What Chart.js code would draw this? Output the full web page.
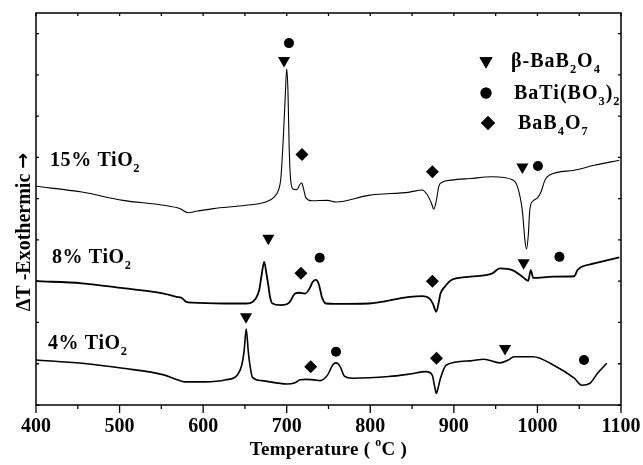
<!DOCTYPE html>
<html>
<head>
<meta charset="utf-8">
<script src="https://cdn.jsdelivr.net/npm/chart.js@4.4.1/dist/chart.umd.min.js"></script>
<style>
  html, body { margin: 0; padding: 0; background: #fff; }
  #wrap { width: 643px; height: 465px; }
</style>
</head>
<body>
<div id="wrap"><canvas id="c" width="643" height="465"></canvas></div>
<script>
// DTA traces (temperature in °C, ΔT in arbitrary units, offset per sample)
const temp15 = [400, 455, 504, 553, 572, 582, 593, 612, 651, 675, 685, 690, 693, 696, 698.5, 700, 701.5, 703, 705, 708,
                712, 716, 718, 720, 723, 730, 749, 759, 798, 847, 862, 868, 873, 876, 879, 882, 886, 897, 920, 946,
                970, 976, 982, 985, 987, 989, 991, 995, 1000, 1004, 1009, 1014, 1044, 1068, 1098];
const dt15   = [53.0, 51.6, 49.6, 48.4, 47.6, 46.6, 47.0, 47.6, 48.4, 49.2, 50.4, 52.0, 55.0, 65.0, 76.0, 81.5, 76.0, 62.0, 54.0, 52.3,
                52.2, 53.5, 53.8, 52.5, 50.2, 49.5, 49.6, 49.2, 50.8, 51.6, 52.1, 51.0, 49.0, 47.5, 49.5, 53.0, 54.0, 54.5, 54.9, 55.3,
                54.6, 53.0, 47.0, 40.0, 37.8, 41.0, 47.5, 49.5, 50.2, 51.5, 54.5, 55.7, 56.9, 58.1, 59.3];

const temp8 = [400, 455, 504, 553, 568, 574, 580, 587, 626, 651, 663, 667, 670, 673, 676, 678, 680, 683, 693, 703,
               710, 715, 722, 728, 731, 735, 738, 740, 742, 747, 759, 798, 847, 862, 871, 875, 879, 882, 884, 889,
               897, 920, 946, 955, 970, 982, 989, 992, 995, 1019, 1044, 1048, 1053, 1068, 1098];
const dt8   = [30.0, 29.5, 28.3, 27.0, 26.2, 26.0, 25.0, 24.8, 24.6, 24.6, 25.8, 27.8, 31.5, 34.7, 31.5, 29.0, 26.2, 24.6, 24.2, 24.8,
               27.0, 27.2, 27.0, 28.5, 29.8, 30.3, 29.5, 28.0, 26.2, 24.6, 24.5, 24.6, 26.2, 26.4, 25.8, 24.5, 22.6, 25.0, 27.0, 28.6,
               30.3, 31.1, 31.9, 33.1, 32.7, 31.1, 30.1, 32.7, 30.8, 31.1, 31.2, 32.7, 33.5, 34.3, 35.8];

const temp4 = [400, 455, 504, 553, 568, 578, 602, 627, 641, 646, 649, 651.5, 654, 656.5, 659, 670, 700, 710, 716, 724,
               733, 740, 749, 755, 759, 764, 769, 779, 822, 847, 867, 874, 877, 879, 881, 884, 891, 920, 936, 955,
               965, 972, 995, 1019, 1044, 1053, 1063, 1072, 1083];
const dt4   = [10.9, 10.1, 8.9, 7.3, 6.2, 5.6, 5.6, 6.1, 7.3, 9.5, 13.0, 18.4, 13.0, 9.0, 6.7, 5.9, 5.1, 5.4, 6.1, 6.2,
               6.1, 5.9, 7.3, 9.7, 10.2, 9.3, 7.0, 6.5, 6.9, 7.5, 8.1, 7.3, 4.5, 2.8, 4.0, 6.5, 9.7, 10.7, 11.1, 10.2,
               10.9, 11.7, 11.7, 9.7, 6.5, 4.8, 5.3, 7.7, 10.1];

// Phase markers placed above the corresponding thermal events
const phaseBBOTemp  = [696.8, 982, 678, 983.5, 651.3, 961.2];
const phaseBBOVal   = [83.5, 57.7, 40.4, 34.5, 21.4, 13.7];
const phaseBTBTemp  = [702.7, 1000.6, 739.5, 1026.3, 759, 1055.7];
const phaseBTBVal   = [87.7, 57.9, 35.7, 35.9, 12.9, 10.9];
const phaseBB4Temp  = [718.3, 874.3, 717, 874.3, 728.7, 879.2];
const phaseBB4Val   = [60.7, 56.5, 31.9, 30.0, 9.3, 11.3];

// Axis ticks
const xMajorTicks = [400, 500, 600, 700, 800, 900, 1000, 1100];
const xMinorTicks = [450, 550, 650, 750, 850, 950, 1050];
const yTicks = [0, 10, 20, 30, 40, 50, 60, 70, 80, 90];

// Text: [string, 'sub' | 'sup' | undefined]
const sampleLabels = [
  { parts: [['15% TiO'], ['2', 'sub']], x: 50, y: 166 },
  { parts: [['8% TiO'], ['2', 'sub']], x: 52, y: 263 },
  { parts: [['4% TiO'], ['2', 'sub']], x: 48, y: 349 }
];
const legendItems = [
  { style: 'triangle', rot: 180, r: 7.5, parts: [['β-BaB'], ['2', 'sub'], ['O'], ['4', 'sub']], x: 486, y: 61, tx: 511 },
  { style: 'circle', rot: 0, r: 5.5, parts: [['BaTi(BO'], ['3', 'sub'], [')'], ['2', 'sub']], x: 486, y: 93, tx: 514 },
  { style: 'rectRot', rot: 0, r: 7, parts: [['BaB'], ['4', 'sub'], ['O'], ['7', 'sub']], x: 488, y: 123, tx: 518 }
];
const xTitle = [['Temperature ( '], ['o', 'sup'], ['C )']];
const yTitleText = 'ΔT -Exothermic ';
const yTitleArrow = '→';

const FONT = '"Liberation Serif", "Times New Roman", serif';
const ARROW_FONT = '"DejaVu Sans", sans-serif';
const pts = (xs, ys) => xs.map((x, i) => ({ x: x, y: ys[i] }));

function richWidth(ctx, parts, size, spacing) {
  let w = 0;
  ctx.letterSpacing = (spacing || 0) + 'px';
  for (const [t, k] of parts) {
    ctx.font = 'bold ' + (k ? size * 0.62 : size) + 'px ' + FONT;
    w += ctx.measureText(t).width;
  }
  ctx.letterSpacing = '0px';
  return w;
}
function drawRich(ctx, parts, x, y, size, spacing) {
  let cx = x;
  ctx.textAlign = 'left';
  ctx.textBaseline = 'alphabetic';
  ctx.letterSpacing = (spacing || 0) + 'px';
  for (const [t, k] of parts) {
    const s = k ? size * 0.62 : size;
    ctx.font = 'bold ' + s + 'px ' + FONT;
    const dy = k === 'sub' ? size * 0.3 : (k === 'sup' ? -size * 0.45 : 0);
    ctx.fillText(t, cx, y + dy);
    cx += ctx.measureText(t).width;
  }
  ctx.letterSpacing = '0px';
}

const framePlugin = {
  id: 'frame',
  afterDraw(chart) {
    const ctx = chart.ctx;
    const xs = chart.scales.x, ys = chart.scales.y;
    const { left, right, top, bottom } = chart.chartArea;
    ctx.save();
    ctx.strokeStyle = '#000';
    ctx.fillStyle = '#000';
    ctx.lineWidth = 1.5;
    ctx.strokeRect(left, top, right - left, bottom - top);

    ctx.lineWidth = 1.3;
    ctx.beginPath();
    for (const v of xMajorTicks) {
      const px = xs.getPixelForValue(v);
      ctx.moveTo(px, bottom); ctx.lineTo(px, bottom + 8);
      ctx.moveTo(px, top); ctx.lineTo(px, top + 3);
    }
    for (const v of xMinorTicks) {
      const px = xs.getPixelForValue(v);
      ctx.moveTo(px, bottom); ctx.lineTo(px, bottom + 4);
      ctx.moveTo(px, top); ctx.lineTo(px, top + 3);
    }
    for (const v of yTicks) {
      const py = ys.getPixelForValue(v);
      ctx.moveTo(left, py); ctx.lineTo(left + 3, py);
      ctx.moveTo(right - 3, py); ctx.lineTo(right, py);
    }
    ctx.stroke();

    // sample labels
    for (const l of sampleLabels) drawRich(ctx, l.parts, l.x, l.y, 20, 0.6);

    // legend
    for (const it of legendItems) {
      Chart.helpers.drawPoint(ctx, { pointStyle: it.style, rotation: it.rot, radius: it.r, borderWidth: 0 }, it.x, it.y);
      ctx.fill();
      drawRich(ctx, it.parts, it.tx, it.y + 6, 20, 1);
    }

    // x title
    const tw = richWidth(ctx, xTitle, 19, 0.3);
    drawRich(ctx, xTitle, (left + right) / 2 - tw / 2, 455, 19, 0.3);

    // y title: text followed by an upward-pointing arrow once rotated
    ctx.translate(30, 232);
    ctx.rotate(-Math.PI / 2);
    ctx.textBaseline = 'alphabetic';
    ctx.textAlign = 'left';
    ctx.font = 'bold 20px ' + FONT;
    const w1 = ctx.measureText(yTitleText).width;
    ctx.font = 'bold 19px ' + ARROW_FONT;
    const w2 = ctx.measureText(yTitleArrow).width;
    const x0 = -(w1 + w2) / 2;
    ctx.font = 'bold 20px ' + FONT;
    ctx.fillText(yTitleText, x0, 0);
    ctx.font = 'bold 19px ' + ARROW_FONT;
    ctx.fillText(yTitleArrow, x0 + w1, -1);
    ctx.restore();
  }
};

const lineSet = (data, w) => ({
  data: data, showLine: true, borderColor: '#000', borderWidth: w,
  pointRadius: 0, cubicInterpolationMode: 'monotone', fill: false
});
const markSet = (data, style, r, rot) => ({
  data: data, showLine: false, pointStyle: style, pointRadius: r, pointRotation: rot,
  backgroundColor: '#000', borderColor: '#000', borderWidth: 0, pointHoverRadius: r
});

new Chart(document.getElementById('c'), {
  type: 'scatter',
  data: {
    datasets: [
      lineSet(pts(temp15, dt15), 1.1),
      lineSet(pts(temp8, dt8), 1.8),
      lineSet(pts(temp4, dt4), 1.6),
      markSet(pts(phaseBBOTemp, phaseBBOVal), 'triangle', 7, 180),
      markSet(pts(phaseBTBTemp, phaseBTBVal), 'circle', 5, 0),
      markSet(pts(phaseBB4Temp, phaseBB4Val), 'rectRot', 6.5, 0)
    ]
  },
  options: {
    responsive: false,
    animation: false,
    devicePixelRatio: 1,
    layout: { padding: { left: 36, right: 22, top: 13, bottom: 0 } },
    plugins: { legend: { display: false }, tooltip: { enabled: false } },
    scales: {
      x: {
        type: 'linear', min: 400, max: 1100, position: 'bottom',
        grid: { display: false, drawTicks: false },
        border: { display: false },
        afterBuildTicks: (s) => { s.ticks = xMajorTicks.map(v => ({ value: v })); },
        afterFit: (s) => { s.height = 60; s.paddingLeft = 0; s.paddingRight = 0; },
        ticks: {
          color: '#000', padding: 10, maxRotation: 0, autoSkip: false,
          font: { family: FONT, size: 20, weight: 'bold' },
          callback: (v) => String(v)
        }
      },
      y: { type: 'linear', min: 0, max: 95, display: false }
    }
  },
  plugins: [framePlugin]
});
</script>
</body>
</html>
